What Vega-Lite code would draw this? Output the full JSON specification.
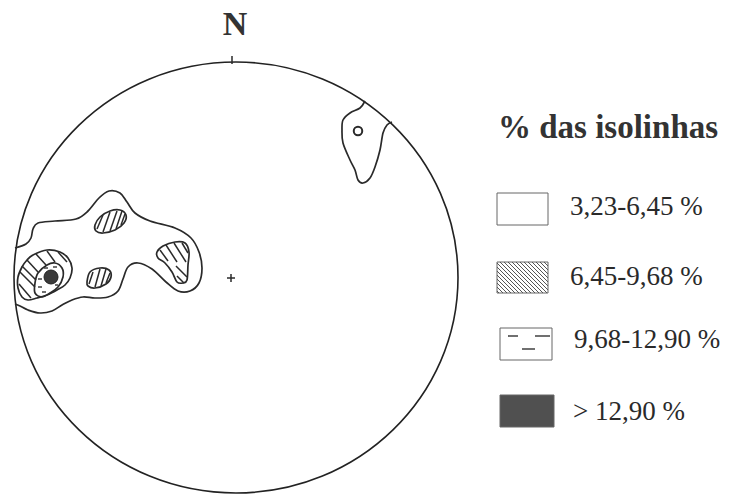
{
  "$schema": "https://vega.github.io/schema/vega-lite/v6.json",
  "width": 729,
  "height": 494,
  "padding": 0,
  "autosize": "none",
  "background": "white",
  "config": {"view": {"stroke": null}},
  "layer": [
    {
      "data": {"values": [{"e": 4, "n": -0.5}]},
      "mark": {"type": "point", "shape": "M-1,0A1,0.9707,0,1,0,1,0A1,0.9707,0,1,0,-1,0Z", "size": 197136, "filled": false, "stroke": "#222", "strokeWidth": 1.6, "opacity": 1},
      "encoding": {
        "x": {"field": "e", "type": "quantitative", "scale": {"domain": [-232, 497], "nice": false, "zero": false}, "axis": null},
        "y": {"field": "n", "type": "quantitative", "scale": {"domain": [-217, 277], "nice": false, "zero": false}, "axis": null}
      }
    },
    {
      "data": {"values": [
        {"g": "outer", "e": -217, "n": 29}, {"g": "outer", "e": -206, "n": 33}, {"g": "outer", "e": -201, "n": 39}, {"g": "outer", "e": -199, "n": 48},
        {"g": "outer", "e": -194, "n": 54}, {"g": "outer", "e": -177, "n": 56}, {"g": "outer", "e": -156, "n": 58}, {"g": "outer", "e": -144, "n": 66},
        {"g": "outer", "e": -133, "n": 79}, {"g": "outer", "e": -123, "n": 86}, {"g": "outer", "e": -112, "n": 84}, {"g": "outer", "e": -105, "n": 75},
        {"g": "outer", "e": -97, "n": 64}, {"g": "outer", "e": -82, "n": 56}, {"g": "outer", "e": -57, "n": 49}, {"g": "outer", "e": -41, "n": 39},
        {"g": "outer", "e": -33, "n": 25}, {"g": "outer", "e": -30, "n": 9}, {"g": "outer", "e": -33, "n": -6}, {"g": "outer", "e": -42, "n": -14},
        {"g": "outer", "e": -54, "n": -14}, {"g": "outer", "e": -66, "n": -5}, {"g": "outer", "e": -80, "n": 8}, {"g": "outer", "e": -94, "n": 14},
        {"g": "outer", "e": -104, "n": 10}, {"g": "outer", "e": -109, "n": -2}, {"g": "outer", "e": -114, "n": -14}, {"g": "outer", "e": -124, "n": -20},
        {"g": "outer", "e": -137, "n": -21}, {"g": "outer", "e": -149, "n": -20}, {"g": "outer", "e": -160, "n": -23}, {"g": "outer", "e": -170, "n": -28},
        {"g": "outer", "e": -180, "n": -34}, {"g": "outer", "e": -192, "n": -36}, {"g": "outer", "e": -204, "n": -33}, {"g": "outer", "e": -212, "n": -29},
        {"g": "outer", "e": -217, "n": -27},
        {"g": "ne", "e": 133, "n": 176}, {"g": "ne", "e": 128, "n": 169}, {"g": "ne", "e": 118, "n": 164}, {"g": "ne", "e": 111, "n": 157},
        {"g": "ne", "e": 110, "n": 147}, {"g": "ne", "e": 111, "n": 134}, {"g": "ne", "e": 118, "n": 117}, {"g": "ne", "e": 123, "n": 107},
        {"g": "ne", "e": 126, "n": 97}, {"g": "ne", "e": 131, "n": 94}, {"g": "ne", "e": 138, "n": 99}, {"g": "ne", "e": 143, "n": 110},
        {"g": "ne", "e": 148, "n": 127}, {"g": "ne", "e": 151, "n": 144}, {"g": "ne", "e": 155, "n": 152}, {"g": "ne", "e": 160, "n": 155}
      ]},
      "mark": {"type": "line", "interpolate": "cardinal", "stroke": "#2a2a2a", "strokeWidth": 1.7},
      "encoding": {
        "x": {"field": "e", "type": "quantitative"},
        "y": {"field": "n", "type": "quantitative"},
        "detail": {"field": "g"},
        "order": {"value": null}
      }
    },
    {
      "data": {"values": [
        {"g": "blob", "e": -199, "n": 22}, {"g": "blob", "e": -185, "n": 27}, {"g": "blob", "e": -172, "n": 25}, {"g": "blob", "e": -164, "n": 19},
        {"g": "blob", "e": -160, "n": 9}, {"g": "blob", "e": -162, "n": -1}, {"g": "blob", "e": -167, "n": -8}, {"g": "blob", "e": -175, "n": -13},
        {"g": "blob", "e": -185, "n": -18}, {"g": "blob", "e": -195, "n": -21}, {"g": "blob", "e": -204, "n": -23}, {"g": "blob", "e": -210, "n": -20},
        {"g": "blob", "e": -214, "n": -11}, {"g": "blob", "e": -214, "n": 0}, {"g": "blob", "e": -210, "n": 10}, {"g": "blob", "e": -205, "n": 17},
        {"g": "inner", "e": -185, "n": 12}, {"g": "inner", "e": -177, "n": 14}, {"g": "inner", "e": -170, "n": 9}, {"g": "inner", "e": -169, "n": 0},
        {"g": "inner", "e": -174, "n": -10}, {"g": "inner", "e": -182, "n": -16}, {"g": "inner", "e": -190, "n": -20}, {"g": "inner", "e": -197, "n": -16},
        {"g": "inner", "e": -197, "n": -6}, {"g": "inner", "e": -194, "n": 4},
        {"g": "top", "e": -137, "n": 52}, {"g": "top", "e": -132, "n": 60}, {"g": "top", "e": -122, "n": 66}, {"g": "top", "e": -112, "n": 67},
        {"g": "top", "e": -106, "n": 62}, {"g": "top", "e": -108, "n": 54}, {"g": "top", "e": -117, "n": 47}, {"g": "top", "e": -129, "n": 44},
        {"g": "top", "e": -136, "n": 46},
        {"g": "bot", "e": -145, "n": -5}, {"g": "bot", "e": -142, "n": 5}, {"g": "bot", "e": -132, "n": 9}, {"g": "bot", "e": -123, "n": 7},
        {"g": "bot", "e": -121, "n": 0}, {"g": "bot", "e": -126, "n": -7}, {"g": "bot", "e": -137, "n": -11}, {"g": "bot", "e": -144, "n": -9},
        {"g": "tri", "e": -75, "n": 25}, {"g": "tri", "e": -69, "n": 31}, {"g": "tri", "e": -57, "n": 35}, {"g": "tri", "e": -47, "n": 34},
        {"g": "tri", "e": -43, "n": 25}, {"g": "tri", "e": -44, "n": 12}, {"g": "tri", "e": -45, "n": -3}, {"g": "tri", "e": -49, "n": -6},
        {"g": "tri", "e": -55, "n": -5}, {"g": "tri", "e": -60, "n": 5}, {"g": "tri", "e": -67, "n": 14}, {"g": "tri", "e": -74, "n": 19}
      ]},
      "mark": {"type": "line", "interpolate": "cardinal-closed", "stroke": "#2a2a2a", "strokeWidth": 1.7},
      "encoding": {
        "x": {"field": "e", "type": "quantitative"},
        "y": {"field": "n", "type": "quantitative"},
        "detail": {"field": "g"},
        "order": {"value": null}
      }
    },
    {
      "data": {"values": [
        {"e": -205, "n": 17, "e2": -194, "n2": 5}, {"e": -196, "n": 23, "e2": -186, "n2": 12}, {"e": -185, "n": 26, "e2": -177, "n2": 15},
        {"e": -174, "n": 25, "e2": -165, "n2": 15}, {"e": -210, "n": 11, "e2": -196, "n2": -3}, {"e": -212, "n": 5, "e2": -197, "n2": -10},
        {"e": -213, "n": -7, "e2": -201, "n2": -21},
        {"e": -135, "n": 48, "e2": -129, "n2": 62}, {"e": -129, "n": 45, "e2": -122, "n2": 65}, {"e": -122, "n": 46, "e2": -115, "n2": 66},
        {"e": -116, "n": 48, "e2": -110, "n2": 66}, {"e": -111, "n": 52, "e2": -107, "n2": 63},
        {"e": -143, "n": -7, "e2": -139, "n2": 5}, {"e": -137, "n": -10, "e2": -132, "n2": 8}, {"e": -131, "n": -9, "e2": -126, "n2": 8},
        {"e": -126, "n": -6, "e2": -122, "n2": 4},
        {"e": -72, "n": 27, "e2": -64, "n2": 16}, {"e": -66, "n": 32, "e2": -55, "n2": 15}, {"e": -58, "n": 34, "e2": -46, "n2": 15},
        {"e": -50, "n": 34, "e2": -44, "n2": 24}, {"e": -56, "n": 11, "e2": -45, "n2": 0}, {"e": -55, "n": 1, "e2": -48, "n2": -6},
        {"e": 0, "n": 221, "e2": 0, "n2": 213},
        {"e": -5, "n": -1, "e2": 3, "n2": -1}, {"e": -1, "n": -5, "e2": -1, "n2": 3}
      ]},
      "mark": {"type": "rule", "stroke": "#2a2a2a", "strokeWidth": 1.5},
      "encoding": {
        "x": {"field": "e", "type": "quantitative"},
        "y": {"field": "n", "type": "quantitative"},
        "x2": {"field": "e2"},
        "y2": {"field": "n2"}
      }
    },
    {
      "data": {"values": [
        {"lvl": "3,23-6,45 %", "e": 265, "e2": 316, "n": 84, "n2": 52},
        {"lvl": "6,45-9,68 %", "e": 265, "e2": 316, "n": 15, "n2": -16},
        {"lvl": "9,68-12,90 %", "e": 268, "e2": 320, "n": -51, "n2": -83},
        {"lvl": "> 12,90 %", "e": 268, "e2": 322, "n": -118, "n2": -150}
      ]},
      "mark": {"type": "rect", "stroke": "#666", "strokeWidth": 1},
      "encoding": {
        "x": {"field": "e", "type": "quantitative"},
        "x2": {"field": "e2"},
        "y": {"field": "n", "type": "quantitative"},
        "y2": {"field": "n2"},
        "fill": {"field": "lvl", "type": "nominal", "scale": {"domain": ["3,23-6,45 %", "6,45-9,68 %", "9,68-12,90 %", "> 12,90 %"], "range": ["#ffffff", "#ffffff", "#ffffff", "#505050"]}, "legend": null}
      }
    },
    {
      "data": {"values": [
        {"e": -188, "n": 9, "e2": -184, "n2": 9}, {"e": -179, "n": 10, "e2": -175, "n2": 10}, {"e": -194, "n": -2, "e2": -190, "n2": -2},
        {"e": -194, "n": -10, "e2": -190, "n2": -10}, {"e": -190, "n": -15, "e2": -186, "n2": -15}, {"e": -177, "n": -8, "e2": -174, "n2": -8},
        {"e": 276, "n": -59, "e2": 286, "n2": -59}, {"e": 303, "n": -59, "e2": 318, "n2": -59}, {"e": 290, "n": -72, "e2": 303, "n2": -72}
      ]},
      "mark": {"type": "rule", "stroke": "#333", "strokeWidth": 1.4},
      "encoding": {
        "x": {"field": "e", "type": "quantitative"},
        "y": {"field": "n", "type": "quantitative"},
        "x2": {"field": "e2"},
        "y2": {"field": "n2"}
      }
    },
    {
      "data": {"values": [{"e": -181, "n": 0}]},
      "mark": {"type": "point", "shape": "circle", "size": 196, "filled": true, "fill": "#3a3a3a", "stroke": "#222", "strokeWidth": 1, "opacity": 1},
      "encoding": {
        "x": {"field": "e", "type": "quantitative"},
        "y": {"field": "n", "type": "quantitative"}
      }
    },
    {
      "data": {"values": [{"e": 126, "n": 146}]},
      "mark": {"type": "point", "shape": "circle", "size": 72, "filled": false, "stroke": "#2a2a2a", "strokeWidth": 2, "opacity": 1},
      "encoding": {
        "x": {"field": "e", "type": "quantitative"},
        "y": {"field": "n", "type": "quantitative"}
      }
    },
    {
      "data": {"values": [
        {"e": 312, "n": 15, "e2": 316, "n2": 11}, {"e": 308, "n": 15, "e2": 316, "n2": 7}, {"e": 304, "n": 15, "e2": 316, "n2": 3},
        {"e": 300, "n": 15, "e2": 316, "n2": -1}, {"e": 296, "n": 15, "e2": 316, "n2": -5}, {"e": 292, "n": 15, "e2": 316, "n2": -9},
        {"e": 288, "n": 15, "e2": 316, "n2": -13}, {"e": 284, "n": 15, "e2": 315, "n2": -16}, {"e": 280, "n": 15, "e2": 311, "n2": -16},
        {"e": 276, "n": 15, "e2": 307, "n2": -16}, {"e": 272, "n": 15, "e2": 303, "n2": -16}, {"e": 268, "n": 15, "e2": 299, "n2": -16},
        {"e": 265, "n": 14, "e2": 295, "n2": -16}, {"e": 265, "n": 10, "e2": 291, "n2": -16}, {"e": 265, "n": 6, "e2": 287, "n2": -16},
        {"e": 265, "n": 2, "e2": 283, "n2": -16}, {"e": 265, "n": -2, "e2": 279, "n2": -16}, {"e": 265, "n": -6, "e2": 275, "n2": -16},
        {"e": 265, "n": -10, "e2": 271, "n2": -16}, {"e": 265, "n": -14, "e2": 267, "n2": -16}
      ]},
      "mark": {"type": "rule", "stroke": "#555", "strokeWidth": 1},
      "encoding": {
        "x": {"field": "e", "type": "quantitative"},
        "y": {"field": "n", "type": "quantitative"},
        "x2": {"field": "e2"},
        "y2": {"field": "n2"}
      }
    },
    {
      "data": {"values": [
        {"t": "3,23-6,45 %", "e": 338, "n": 62},
        {"t": "6,45-9,68 %", "e": 338, "n": -8},
        {"t": "9,68-12,90 %", "e": 342, "n": -71},
        {"t": "> 12,90 %", "e": 341, "n": -143}
      ]},
      "mark": {"type": "text", "align": "left", "baseline": "alphabetic", "font": "Liberation Serif", "fontSize": 27, "fill": "#2a2a2a"},
      "encoding": {
        "x": {"field": "e", "type": "quantitative"},
        "y": {"field": "n", "type": "quantitative"},
        "text": {"field": "t"}
      }
    },
    {
      "data": {"values": [{"t": "% das isolinhas", "e": 266, "n": 139}]},
      "mark": {"type": "text", "align": "left", "baseline": "alphabetic", "font": "Liberation Serif", "fontWeight": "bold", "fontSize": 33, "fill": "#333"},
      "encoding": {
        "x": {"field": "e", "type": "quantitative"},
        "y": {"field": "n", "type": "quantitative"},
        "text": {"field": "t"}
      }
    },
    {
      "data": {"values": [{"t": "N", "e": 3, "n": 242}]},
      "mark": {"type": "text", "align": "center", "baseline": "alphabetic", "font": "Liberation Serif", "fontWeight": "bold", "fontSize": 34, "fill": "#333"},
      "encoding": {
        "x": {"field": "e", "type": "quantitative"},
        "y": {"field": "n", "type": "quantitative"},
        "text": {"field": "t"}
      }
    }
  ]
}
